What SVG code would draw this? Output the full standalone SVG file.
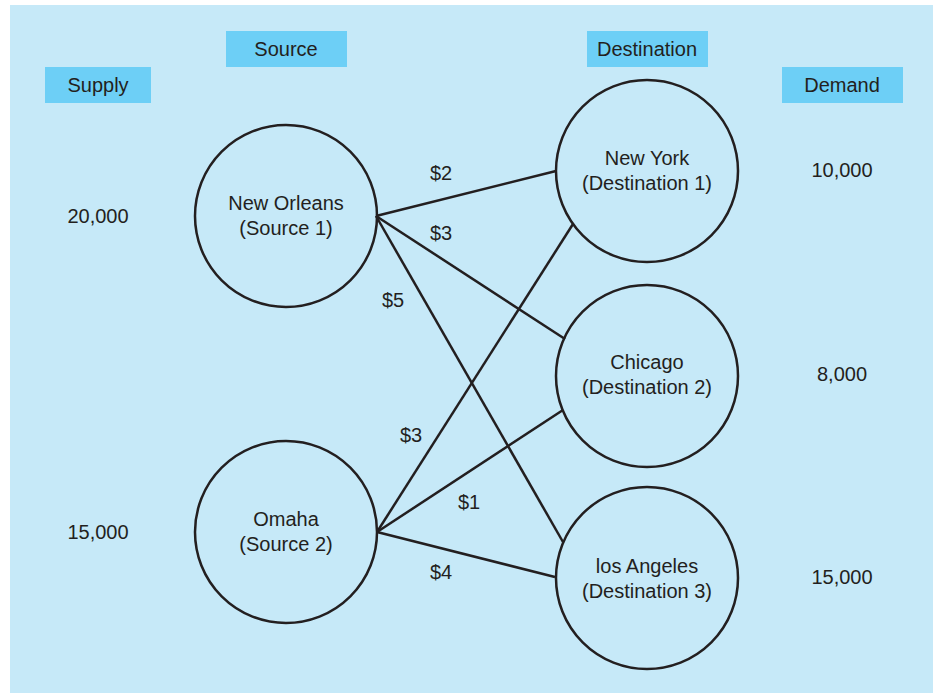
<svg xmlns="http://www.w3.org/2000/svg" width="933" height="693" viewBox="0 0 933 693">
<style>
text{font-family:"Liberation Sans",Arial,sans-serif;font-size:20px;fill:#231F20;text-anchor:middle}
.hdr{fill:#6DCFF6}
.node{fill:none;stroke:#231F20;stroke-width:2.5}
.edge{stroke:#231F20;stroke-width:2.5;fill:none}
</style>
<rect x="10" y="5" width="923" height="688" fill="#C6E9F8"/>
<g id="hdr-supply"><rect class="hdr" x="45" y="67" width="106" height="36"/><text x="98" y="92">Supply</text></g>
<g id="hdr-source"><rect class="hdr" x="226" y="31" width="121" height="36"/><text x="286" y="56">Source</text></g>
<g id="hdr-destination"><rect class="hdr" x="587" y="31" width="121" height="36"/><text x="647" y="56">Destination</text></g>
<g id="hdr-demand"><rect class="hdr" x="782" y="67" width="121" height="36"/><text x="842" y="92">Demand</text></g>
<g id="connectors">
<line class="edge" x1="376" y1="216" x2="556" y2="171"/>
<line class="edge" x1="376" y1="216" x2="565" y2="339"/>
<line class="edge" x1="376" y1="216" x2="563" y2="542"/>
<line class="edge" x1="377" y1="532" x2="573" y2="224"/>
<line class="edge" x1="377" y1="532" x2="563" y2="410"/>
<line class="edge" x1="377" y1="532" x2="555" y2="577"/>
</g>
<g id="costs">
<text x="441" y="180">$2</text>
<text x="441" y="240">$3</text>
<text x="393" y="307">$5</text>
<text x="411" y="442">$3</text>
<text x="469" y="509">$1</text>
<text x="441" y="579">$4</text>
</g>
<g id="new-orleans"><circle class="node" cx="286" cy="216" r="91"/><text x="286" y="210">New Orleans</text><text x="286" y="235">(Source 1)</text></g>
<g id="omaha"><circle class="node" cx="286" cy="532" r="91"/><text x="286" y="526">Omaha</text><text x="286" y="551">(Source 2)</text></g>
<g id="new-york"><circle class="node" cx="647" cy="171" r="91"/><text x="647" y="165">New York</text><text x="647" y="190">(Destination 1)</text></g>
<g id="chicago"><circle class="node" cx="647" cy="376" r="91"/><text x="647" y="369">Chicago</text><text x="647" y="394">(Destination 2)</text></g>
<g id="los-angeles"><circle class="node" cx="647" cy="578" r="91"/><text x="647" y="573">los Angeles</text><text x="647" y="598">(Destination 3)</text></g>
<g id="supply-1"><text x="98" y="223">20,000</text></g>
<g id="supply-2"><text x="98" y="539">15,000</text></g>
<g id="demand-1"><text x="842" y="177">10,000</text></g>
<g id="demand-2"><text x="842" y="381">8,000</text></g>
<g id="demand-3"><text x="842" y="584">15,000</text></g>
</svg>
